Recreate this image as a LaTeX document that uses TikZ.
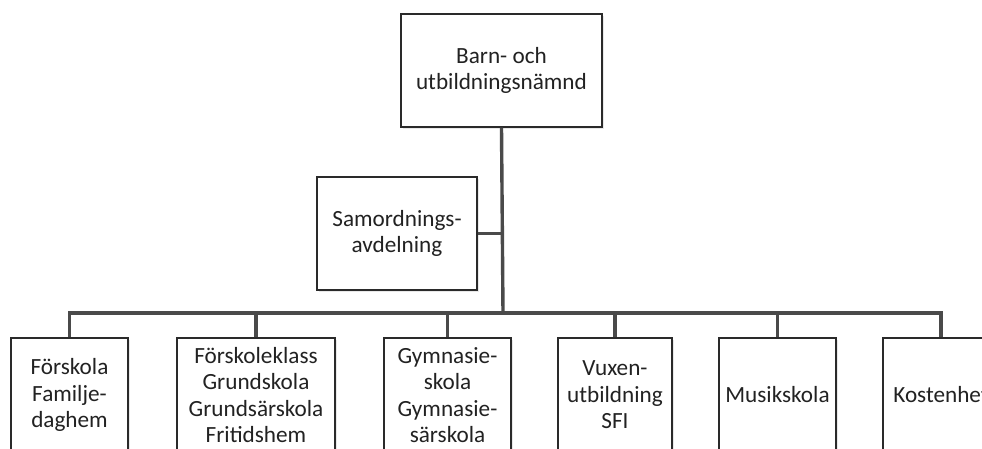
\documentclass[tikz,border=0pt]{standalone}
\usepackage{fontspec}
\setmainfont{Carlito}
\usetikzlibrary{shadows}
\definecolor{boxline}{HTML}{2A2A2A}
\definecolor{conn}{HTML}{4A4A4A}
\definecolor{txt}{HTML}{222222}
\begin{document}
\begin{tikzpicture}[x=1pt,y=-1pt,
  orgbox/.style={draw=boxline,line width=1.4pt,fill=white,align=center,
    inner sep=0pt,text=txt,
    font=\fontsize{23.2}{26.5}\selectfont,
    drop shadow={opacity=0.18,shadow xshift=2pt,shadow yshift=-2pt}},
  conline/.style={draw=conn,line width=3.4pt}]
\useasboundingbox (0,0) rectangle (982,449);
\clip (0,0) rectangle (982,449);
\fill[white] (0,0) rectangle (982,449);
% nodes
\node[orgbox,minimum width=201pt,minimum height=113pt] (top) at (501.5,70.5) {Barn- och\\utbildningsnämnd};
\node[orgbox,minimum width=160pt,minimum height=113pt] (sam) at (397,233.5) {Samordnings-\\avdelning};
\coordinate (bus) at (503,313);
\node[orgbox,minimum width=117pt,minimum height=114pt] (b1) at (69.5,395) {Förskola\\Familje-\\daghem};
\node[orgbox,minimum width=158pt,minimum height=114pt] (b2) at (256,395) {Förskoleklass\\Grundskola\\Grundsärskola\\Fritidshem};
\node[orgbox,minimum width=127pt,minimum height=114pt] (b3) at (447.5,395) {Gymnasie-\\skola\\Gymnasie-\\särskola};
\node[orgbox,minimum width=114pt,minimum height=114pt] (b4) at (615,395) {Vuxen-\\utbildning\\SFI};
\node[orgbox,minimum width=117pt,minimum height=114pt] (b5) at (777.5,395) {Musikskola};
\node[orgbox,minimum width=116pt,minimum height=114pt] (b6) at (941,395) {Kostenhet};
% connectors
\draw[conline] (top.south) -- (bus);
\draw[conline] (sam.east) -- (sam.east -| bus);
\draw[conline] (b1.north) |- (bus) -| (b6.north);
\draw[conline] (b2.north) -- (b2.north |- bus);
\draw[conline] (b3.north) -- (b3.north |- bus);
\draw[conline] (b4.north) -- (b4.north |- bus);
\draw[conline] (b5.north) -- (b5.north |- bus);
\end{tikzpicture}
\end{document}
